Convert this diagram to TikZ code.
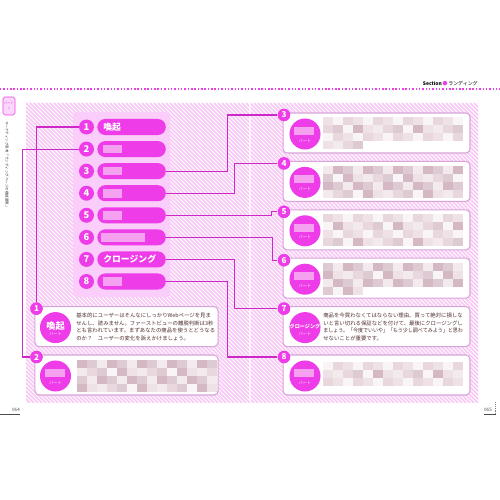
\documentclass[tikz,border=0pt]{standalone}
\usepackage{fontspec}
\usepackage{graphicx}
\setmainfont{Noto Sans CJK JP}
\usetikzlibrary{calc}
\definecolor{mag}{RGB}{238,60,232}
\definecolor{lnk}{RGB}{205,40,200}
\definecolor{panel}{RGB}{250,205,250}
\definecolor{hatchc}{RGB}{248,200,246}
\definecolor{cardb}{RGB}{215,165,215}
\definecolor{ph}{RGB}{246,160,242}
\definecolor{txt}{RGB}{80,45,45}
\definecolor{tabf}{RGB}{252,215,252}
\definecolor{mz0}{RGB}{242,234,237}
\definecolor{mz1}{RGB}{232,216,222}
\definecolor{mz2}{RGB}{222,202,210}
\definecolor{mz3}{RGB}{249,244,246}
\definecolor{mz4}{RGB}{212,185,196}
\definecolor{mz5}{RGB}{238,226,230}
\newcommand\mosaic[6]{%
  \foreach \mrow in {1,...,#4}{%
    \pgfmathtruncatemacro\mzn{\mrow==#4 ? #5 : #3}%
    \foreach \mcol in {1,...,\mzn}{%
      \pgfmathtruncatemacro\mzk{mod(\mcol*7+\mrow*11+\mcol*\mrow*3+#6,6)}%
      \fill[mz\mzk] ({#1+(\mcol-1)*10},{#2+(\mrow-1)*8}) rectangle ++(10,8);
    }%
  }%
}
\begin{document}
\begin{tikzpicture}[x=0.567pt,y=-0.567pt,
  conn/.style={draw=lnk, line width=0.6pt},
  numc/.style={circle, fill=mag, text=white, inner sep=0pt, minimum size=8.5pt, font=\fontsize{5.3}{5.3}\selectfont\bfseries},
  pill/.style={rectangle, rounded corners=4.5pt, fill=mag, text width=32pt, inner xsep=3.4pt, inner ysep=0pt, minimum height=9.1pt, align=left, text=white, font=\fontsize{5}{5}\selectfont\bfseries, anchor=west},
  badge/.style={circle, fill=mag, text=white, inner sep=0pt, minimum size=7pt, font=\fontsize{4.6}{4.6}\selectfont\bfseries},
  card/.style={rectangle, rounded corners=2.3pt, draw=cardb, line width=0.6pt, fill=white, minimum height=22.7pt, inner sep=0pt},
  big/.style={circle, fill=mag, inner sep=0pt, minimum size=17.6pt},
  part/.style={inner sep=0pt, text=white!90!mag, font=\fontsize{2.3}{2.3}\selectfont},
  ctext/.style={anchor=west, align=left, inner sep=0pt, text=txt, font=\fontsize{3.05}{4.36}\selectfont},
  hatch/.style={draw=hatchc, line width=0.85pt}
]
\useasboundingbox (0,0) rectangle (500,500);
\fill[white] (0,0) rectangle (500,500);

% header
\draw[mag, line width=0.8pt, dash pattern=on 0.85pt off 1.05pt] (0,89) -- (500,89);
\node[anchor=east, inner sep=0pt, font=\fontsize{2.8}{2.8}\selectfont] (hd) at (478,84) {\textbf{Section}\,\textcolor{mag}{●}\,ランディング};

% tab and side text
\node[rectangle, rounded corners=1pt, fill=tabf, draw=mag, line width=0.3pt, minimum width=6.8pt, minimum height=10.2pt, inner sep=0pt, align=center, font=\fontsize{1.8}{2.6}\selectfont, text=mag] (tab) at (9,106) {パート\\3};
\node[rotate=-90, inner sep=0pt, font=\fontsize{2}{2}\selectfont, text=black!80] (vt) at (7,165) {マーケティング思考「ランディングページの構成要素」};

% hatched background
\begin{scope}
  \clip (26,103) rectangle (478,402);
  \foreach \s in {-300,-296,...,452} \draw[hatch] (26+\s,103) -- ++(300,300);
\end{scope}
\draw[white, line width=0.7pt, opacity=0.7] (250,103) -- (250,402);

% light panel
\fill[panel, rounded corners=1.5pt] (73,112) rectangle (170,297);

% cards
\node[card, minimum width=103.8pt] (d1) at (126.5,326.6) {};
\node[card, minimum width=103.8pt] (d2) at (126.5,375) {};
\node[card, minimum width=106pt] (d3) at (376.5,133) {};
\node[card, minimum width=106pt] (d4) at (376.5,181.4) {};
\node[card, minimum width=106pt] (d5) at (376.5,229.8) {};
\node[card, minimum width=106pt] (d6) at (376.5,278.2) {};
\node[card, minimum width=106pt] (d7) at (376.5,326.6) {};
\node[card, minimum width=106pt] (d8) at (376.5,375) {};

% list
\foreach \i in {1,...,8}{
  \pgfmathsetmacro\yy{127+22.07*(\i-1)}
  \node[numc] (c\i) at (86.5,\yy) {\i};
}
\node[pill] (p1) at (97,127) {喚起};
\node[pill] (p2) at (97,149.07) {};
\node[pill] (p3) at (97,171.14) {};
\node[pill] (p4) at (97,193.21) {};
\node[pill] (p5) at (97,215.28) {};
\node[pill] (p6) at (97,237.35) {};
\node[pill] (p7) at (97,259.42) {クロージング};
\node[pill] (p8) at (97,281.49) {};
\foreach \k in {2,3,4,5,8} \fill[ph] ($(p\k.west)+(6,-4.3)$) rectangle ++(19,8.6);
\fill[ph] ($(p6.west)+(4,-4.3)$) rectangle ++(44,8.6);

% badges (named) and connectors
\node[badge] (b1) at (36.5,308.6) {1};
\node[badge] (b2) at (36.5,357) {2};
\node[badge] (b3) at (284,115) {3};
\node[badge] (b4) at (284,163.4) {4};
\node[badge] (b5) at (284,211.8) {5};
\node[badge] (b6) at (284,260.2) {6};
\node[badge] (b7) at (284,308.6) {7};
\node[badge] (b8) at (284,357) {8};

\draw[conn] (c1.west) -| (b1.north);
\draw[conn] (c2.west) -- ++(-56,0) |- (b2.west);
\draw[conn] (p3.east) -- ++(61,0) |- (b3.west);
\draw[conn] (p4.east) -- ++(68,0) |- (b4.west);
\draw[conn] (p5.east) -- ++(105,0) |- (b5.west);
\draw[conn] (p6.east) -- ++(106,0) |- (b6.west);
\draw[conn] (p7.east) -- ++(68,0) |- (b7.west);
\draw[conn] (p8.east) -- ++(61,0) |- (b8.west);
\foreach \k/\x/\y in {1/36.5/308.6,2/36.5/357,3/284/115,4/284/163.4,5/284/211.8,6/284/260.2,7/284/308.6,8/284/357}
  \node[badge] at (\x,\y) {\k};

% big circles
\node[big] (k1) at (55.5,327.6) {};
\node[big] (k2) at (55.5,376) {};
\node[big] (k3) at (305,134) {};
\node[big] (k4) at (305,182.4) {};
\node[big] (k5) at (305,230.8) {};
\node[big] (k6) at (305,279.2) {};
\node[big] (k7) at (305,327.6) {};
\node[big] (k8) at (305,376) {};
\node[inner sep=0pt, text=white, font=\fontsize{5.2}{5.2}\selectfont\bfseries] (k1t) at ($(k1.center)+(0,-1.5)$) {喚起};
\node[part] (kp1) at ($(k1.center)+(0,6.5)$) {パート};
\node[inner sep=0pt, text=white, font=\fontsize{2.9}{2.9}\selectfont\bfseries] (k7t) at ($(k7.center)+(0,-1)$) {クロージング};
\node[part] (kp7) at ($(k7.center)+(0,6.5)$) {パート};
\foreach \k in {2,3,4,5,6,8}{
  \fill[ph] ($(k\k.center)+(-11,-7)$) rectangle ++(20,8);
  \node[part] (kp\k) at ($(k\k.center)+(0,6.5)$) {パート};
}

% card texts
\node[ctext] (t1) at (76,327) {基本的にユーザーはそんなにしっかりWebページを見ま\\せんし、読みません。ファーストビューの離脱判断は3秒\\とも言われています。まずあなたの商品を使うとどうなる\\のか？　ユーザーの変化を訴えかけましょう。};
\node[ctext] (t7) at (323,327) {商品を今買わなくてはならない理由、買って絶対に損しな\\いと言い切れる保証などを付けて、最後にクロージングし\\\scalebox{0.93}[1]{ましょう。「今度でいいや」「もう少し調べてみよう」と思わ}\\せないことが重要です。};

% blurred texts
\mosaic{77}{360}{14}{4}{14}{1}
\mosaic{323}{117}{14}{4}{4}{2}
\mosaic{323}{166}{14}{4}{14}{3}
\mosaic{323}{214}{14}{4}{14}{4}
\mosaic{323}{263}{14}{4}{4}{5}
\mosaic{323}{362}{14}{3}{14}{0}

% page numbers
\node[inner sep=0pt, font=\fontsize{2.6}{2.6}\selectfont, text=black!70] (pn1) at (16,410) {064};
\draw[black!70, line width=0.4pt] (0,414.5) -- (20,414.5);
\node[inner sep=0pt, font=\fontsize{2.6}{2.6}\selectfont, text=black!70] (pn2) at (488,410) {065};
\draw[black!70, line width=0.4pt] (484,414.5) -- (496,414.5);
\draw[black!50, line width=0.3pt, dash pattern=on 0.6pt off 0.6pt] (495,402) -- (495,414.5);
\end{tikzpicture}
\end{document}
